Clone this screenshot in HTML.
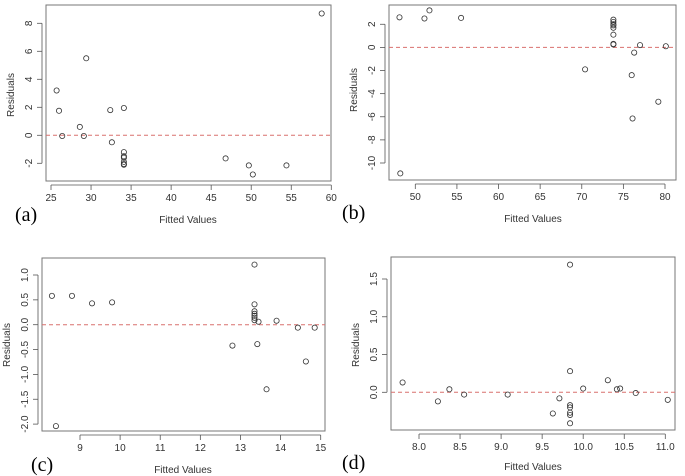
<!DOCTYPE html>
<html><head><meta charset="utf-8"><style>
body{margin:0;background:#fff;}
svg{display:block;}
text{font-family:"Liberation Sans",sans-serif;fill:#333;}
.lbl{font-family:"Liberation Serif",serif;fill:#000;font-size:20px;}
</style></head><body>
<svg id="s" width="685" height="476" viewBox="0 0 685 476"></svg>
<script>
// Panel (a)
const aX=[25.7,26.0,26.4,28.6,29.1,29.4,32.4,32.6,34.1,34.1,34.1,34.1,34.1,34.1,34.1,46.8,49.7,50.2,54.4,58.8];
const aY=[3.2,1.75,-0.05,0.6,-0.05,5.5,1.8,-0.5,1.95,-1.2,-1.5,-1.6,-1.9,-2.05,-2.1,-1.65,-2.15,-2.8,-2.15,8.7];
const aXTicks=[25,30,35,40,45,50,55,60];
const aYTicks=[-2,0,2,4,6,8];
// Panel (b)
const bX=[48.1,48.2,51.1,51.7,55.5,70.4,73.8,73.8,73.8,73.8,73.8,73.8,73.8,73.8,76.0,76.1,76.3,77.0,79.2,80.1];
const bY=[2.6,-10.9,2.5,3.2,2.55,-1.9,2.4,2.2,2.0,1.9,1.7,1.1,0.3,0.25,-2.4,-6.15,-0.45,0.2,-4.7,0.1];
const bXTicks=[50,55,60,65,70,75,80];
const bYTicks=[-10,-8,-6,-4,-2,0,2];
// Panel (c)
const cX=[8.3,8.4,8.8,9.3,9.8,12.8,13.35,13.35,13.35,13.35,13.35,13.35,13.35,13.42,13.45,13.65,13.9,14.43,14.63,14.85];
const cY=[0.58,-2.04,0.58,0.43,0.45,-0.42,1.21,0.41,0.27,0.22,0.18,0.14,0.09,-0.39,0.06,-1.3,0.08,-0.06,-0.74,-0.06];
const cXTicks=[9,10,11,12,13,14,15];
const cYTicks=[-2.0,-1.5,-1.0,-0.5,0.0,0.5,1.0];
// Panel (d)
const dX=[7.8,8.23,8.37,8.55,9.08,9.63,9.71,9.84,9.84,9.84,9.84,9.84,9.84,9.84,10.0,10.3,10.41,10.45,10.64,11.03];
const dY=[0.13,-0.12,0.04,-0.03,-0.03,-0.28,-0.08,1.69,0.28,-0.17,-0.2,-0.27,-0.3,-0.41,0.05,0.16,0.04,0.05,-0.01,-0.1];
const dXTicks=[8.0,8.5,9.0,9.5,10.0,10.5,11.0];
const dYTicks=[0.0,0.5,1.0,1.5];

const NS='http://www.w3.org/2000/svg';
const svg=document.getElementById('s');
function mk(tag,attrs,parent){const e=document.createElementNS(NS,tag);for(const k in attrs)e.setAttribute(k,attrs[k]);(parent||svg).appendChild(e);return e;}

function panel(id,xs,ys,xt,yt,xdec,ydec,g){
  const grp=mk('g',{});
  
  
  const sx=v=>g.x0+(v-g.xv0)*(g.x1-g.x0)/(g.xv1-g.xv0);
  const sy=v=>g.y0+(v-g.yv0)*(g.y1-g.y0)/(g.yv1-g.yv0);
  const box=mk('rect',{x:g.L,y:g.T,width:g.R-g.L,height:g.B-g.T,fill:'none',stroke:'#777','stroke-width':1},grp);
  
  
  const xa=mk('g',{},grp);
  
  
  mk('line',{x1:sx(xt[0]),x2:sx(xt[xt.length-1]),y1:g.B+4,y2:g.B+4,stroke:'#555','stroke-width':0.8},xa);
  xt.forEach(v=>{
    mk('line',{x1:sx(v),x2:sx(v),y1:g.B+4,y2:g.B+9,stroke:'#555','stroke-width':0.8},xa);
    const t=mk('text',{x:sx(v),y:g.B+20,'font-size':10,'text-anchor':'middle'},xa);
    t.textContent=v.toFixed(xdec);
    
    
  });
  const ya=mk('g',{},grp);
  
  
  mk('line',{x1:g.L-4,x2:g.L-4,y1:sy(yt[0]),y2:sy(yt[yt.length-1]),stroke:'#555','stroke-width':0.8},ya);
  yt.forEach(v=>{
    mk('line',{x1:g.L-9,x2:g.L-4,y1:sy(v),y2:sy(v),stroke:'#555','stroke-width':0.8},ya);
    const tx=g.L-14, ty=sy(v);
    const t=mk('text',{x:tx,y:ty,'font-size':10,'text-anchor':'middle',transform:`rotate(-90 ${tx} ${ty})`},ya);
    t.textContent=v.toFixed(ydec);
    
    
  });
  const z=mk('line',{x1:g.L,x2:g.R,y1:sy(0),y2:sy(0),stroke:'#d9706f','stroke-width':1,'stroke-dasharray':'4,3'},grp);
  
  
  xs.forEach((x,i)=>{
    const c=mk('circle',{cx:sx(x),cy:sy(ys[i]),r:2.6,fill:'none',stroke:'#333','stroke-width':0.8},grp);
    
    
  });
  const xl=mk('text',{x:g.xlx,y:g.xly,'font-size':10,'text-anchor':'middle'},grp);
  xl.textContent='Fitted Values';
  
  
  const yl=mk('text',{x:g.ylx,y:g.yly,'font-size':10,'text-anchor':'middle',transform:`rotate(-90 ${g.ylx} ${g.yly})`},grp);
  yl.textContent='Residuals';
  
  
  const pl=mk('text',{x:g.plx,y:g.ply,class:'lbl'},grp);
  pl.textContent='('+id+')';
  
  
}

panel('a',aX,aY,aXTicks,aYTicks,0,0,{L:46,R:331,T:5,B:181,x0:51,x1:331.3,xv0:25,xv1:60,y0:135.3,y1:23.3,yv0:0,yv1:8,xlx:188,xly:223,ylx:14,yly:95,plx:15,ply:221});
panel('b',bX,bY,bXTicks,bYTicks,0,0,{L:389,R:676,T:5,B:180,x0:415.3,x1:665,xv0:50,xv1:80,y0:47.4,y1:163,yv0:0,yv1:-10,xlx:533,xly:222,ylx:357,yly:90,plx:342,ply:219});
panel('c',cX,cY,cXTicks,cYTicks,0,1,{L:42,R:325,T:258,B:431,x0:80,x1:320.7,xv0:9,xv1:15,y0:324.7,y1:275,yv0:0,yv1:1,xlx:183,xly:473,ylx:10,yly:345,plx:31,ply:471});
panel('d',dX,dY,dXTicks,dYTicks,1,1,{L:391,R:675,T:257,B:430,x0:419,x1:665.3,xv0:8,xv1:11,y0:392.3,y1:279,yv0:0,yv1:1.5,xlx:533,xly:470,ylx:359,yly:345,plx:342,ply:469});
</script>
</body></html>
